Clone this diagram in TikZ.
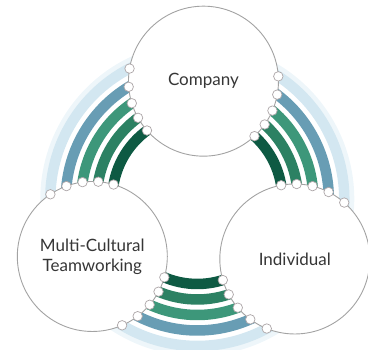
\documentclass[tikz,border=0pt]{standalone}
\usepackage{fontspec}
\setmainfont{Lato}
\definecolor{ringA}{HTML}{0E5A43}
\definecolor{ringB}{HTML}{2C8163}
\definecolor{ringC}{HTML}{3D977A}
\definecolor{ringD}{HTML}{689DB4}
\definecolor{ringE}{HTML}{D3E7F1}
\definecolor{ringHalo}{HTML}{EEF6FA}
\definecolor{hubline}{HTML}{A3A3A3}
\definecolor{knotline}{HTML}{ADA6A8}
\definecolor{labeltext}{HTML}{363636}
% radius of the three hubs
\def\hubr{75}
% arc of radius #1 about the centre, running from the hub at angle #4
% (distance #5) to the hub at angle #6 (distance #7)
\newcommand\ringarc[7]{%
  \pgfmathsetmacro\ringpa{acos(((#1/100)^2+(#5/100)^2-(\hubr/100)^2)/(2*(#1/100)*(#5/100)))}%
  \pgfmathsetmacro\ringpb{acos(((#1/100)^2+(#7/100)^2-(\hubr/100)^2)/(2*(#1/100)*(#7/100)))}%
  \pgfmathsetmacro\rings{#4+\ringpa-5}%
  \pgfmathsetmacro\ringe{#6-\ringpb+5}%
  \draw[line width=#2, #3] ([shift={(\rings:#1)}]O) arc[start angle=\rings, end angle=\ringe, radius=#1];%
}
\begin{document}
\begin{tikzpicture}[x=1pt,y=1pt,
  hub/.style={circle, draw=hubline, fill=white, line width=0.9pt,
    minimum size=150pt, inner sep=0pt, align=center,
    font=\fontsize{17}{20}\selectfont, text=labeltext},
  knot/.style={circle, draw=knotline, fill=white, line width=0.7pt,
    minimum size=9.5pt, inner sep=0pt}]
\useasboundingbox (-197.3,-151) rectangle (170.7,199);
\coordinate (O) at (0,0);

% soft halo outside the outermost ring
\foreach \a/\da/\b/\db in {87/118/208.7/119.7, 208.7/119.7/328.4/114.5, 328.4/114.5/447/118}
  {\ringarc{150}{14pt}{ringHalo}{\a}{\da}{\b}{\db}}

% the five rings linking each pair of hubs
\foreach \R/\col in {147/ringE, 131.5/ringD, 116/ringC, 100.5/ringB, 85/ringA}
  \foreach \a/\da/\b/\db in {87/118/208.7/119.7, 208.7/119.7/328.4/114.5, 328.4/114.5/447/118}
    {\ringarc{\R}{10.5pt}{\col}{\a}{\da}{\b}{\db}}

% hubs
\node[hub] (company) at (87:118) {Company};
\node[hub] (team) at (208.7:119.7) {Multi-Cultural\\Teamworking};
\node[hub] (indiv) at (328.4:114.5) {Individual};

% small joints where each ring meets a hub
\foreach \R in {147, 131.5, 116, 100.5, 85}
  \foreach \c/\d in {87/118, 208.7/119.7, 328.4/114.5} {
    \pgfmathsetmacro\jp{acos(((\R/100)^2+(\d/100)^2-(\hubr/100)^2)/(2*(\R/100)*(\d/100)))}
    \pgfmathsetmacro\ju{\c+\jp}
    \pgfmathsetmacro\jv{\c-\jp}
    \node[knot] at (\ju:\R) {};
    \node[knot] at (\jv:\R) {};
  }
\end{tikzpicture}
\end{document}
